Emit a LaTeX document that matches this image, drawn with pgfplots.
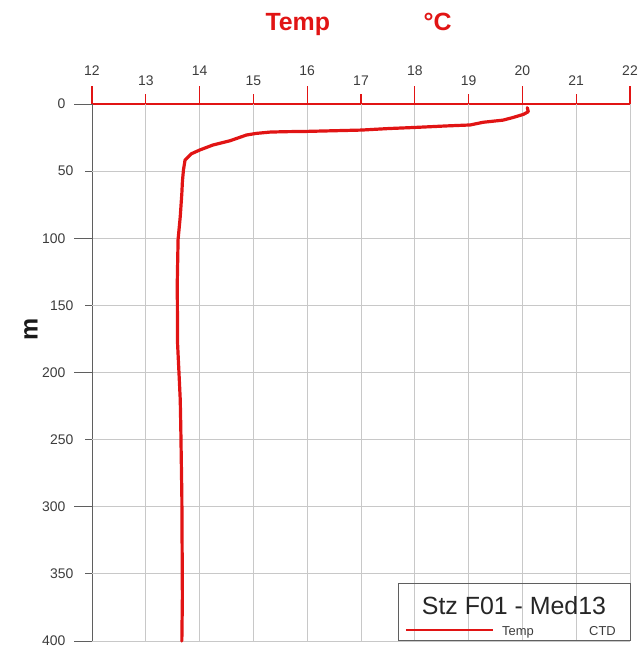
\documentclass[border=0pt]{standalone}
\usepackage{fontspec}
\setmainfont{Liberation Sans}
\usepackage{pgfplots}
\pgfplotsset{compat=1.18}
\definecolor{cred}{RGB}{225,20,20}
\definecolor{cgrid}{RGB}{200,200,200}
\definecolor{caxis}{RGB}{95,95,95}
\definecolor{ctext}{RGB}{60,60,60}
\begin{document}
\begin{tikzpicture}
\begin{axis}[
  scale only axis, width=538bp, height=537bp,
  xmin=12, xmax=22, ymin=0, ymax=400, y dir=reverse,
  axis x line=top, axis y line=left,
  axis line style={-},
  x axis line style={cred, line width=1.2bp},
  y axis line style={caxis, line width=1bp},
  clip=false,
  xtick={12,14,...,22},
  extra x ticks={13,15,...,21},
  ytick={0,100,...,400},
  extra y ticks={50,150,...,350},
  tick align=outside,
  major tick length=18bp,
  grid=major,
  major grid style={cgrid, line width=0.8bp},
  x tick style={cred, line width=1.2bp},
  y tick style={caxis, line width=1bp},
  xticklabel style={yshift=7bp},
  yticklabel style={xshift=-5bp},
  extra x tick style={grid=major, major tick length=10bp, xticklabel style={yshift=-2bp}},
  extra y tick style={grid=major, major tick length=7bp, yticklabel style={xshift=-3bp}},
  tick label style={font=\fontsize{14}{16}\selectfont, text=ctext},
  /pgf/number format/assume math mode=true,
]
\addplot[cred, line width=3.2bp, line join=round, line cap=round] coordinates {
(20.09,2.7) (20.11,5.7) (20.02,7.7) (19.83,10) (19.64,12) (19.27,13.6)
(19.03,15.6) (18.60,16.3) (18.03,17.4) (17.50,18.3) (17.01,19.4) (16.50,19.9)
(15.99,20.4) (15.60,20.6) (15.31,20.9) (15.05,21.9) (14.87,23.1) (14.57,27.3)
(14.25,30.5) (14.00,34.3) (13.85,37) (13.73,41.7) (13.70,49) (13.68,58)
(13.67,66.5) (13.64,84) (13.60,101) (13.585,133) (13.59,178) (13.62,203)
(13.64,220) (13.65,240) (13.67,292) (13.68,367) (13.67,400)
};
\node[anchor=base west, text=cred, font=\bfseries\fontsize{25}{28}\selectfont] at (axis description cs:0.316,1.136) {Temp};
\node[anchor=base west, text=cred, font=\bfseries\fontsize{25}{28}\selectfont] at (axis description cs:0.6097,1.136) {°C};
\node[rotate=90, font=\bfseries\fontsize{25}{28}\selectfont, text=black!90] at (axis description cs:-0.1134,0.581) {m};
\draw[caxis, line width=0.9bp] (axis description cs:0.5688,0.0019) rectangle (axis description cs:1.0,0.1080);
\node[anchor=base, font=\fontsize{25}{30}\selectfont, text=black!85] at (axis description cs:0.7844,0.0503) {Stz F01 - Med13};
\draw[cred, line width=2.8bp] (axis description cs:0.5836,0.0205) -- (axis description cs:0.7454,0.0205);
\node[anchor=base west, inner sep=0pt, font=\fontsize{13}{15}\selectfont, text=ctext] at (axis description cs:0.762,0.0112) {Temp};
\node[anchor=base west, inner sep=0pt, font=\fontsize{13}{15}\selectfont, text=ctext] at (axis description cs:0.9238,0.0112) {CTD};
\coordinate (bl) at (axis description cs:-0.171,-0.013);
\coordinate (tr) at (axis description cs:1.0149,1.1937);
\end{axis}
\pgfresetboundingbox
\path[use as bounding box] (bl) rectangle (tr);
\end{tikzpicture}
\end{document}
